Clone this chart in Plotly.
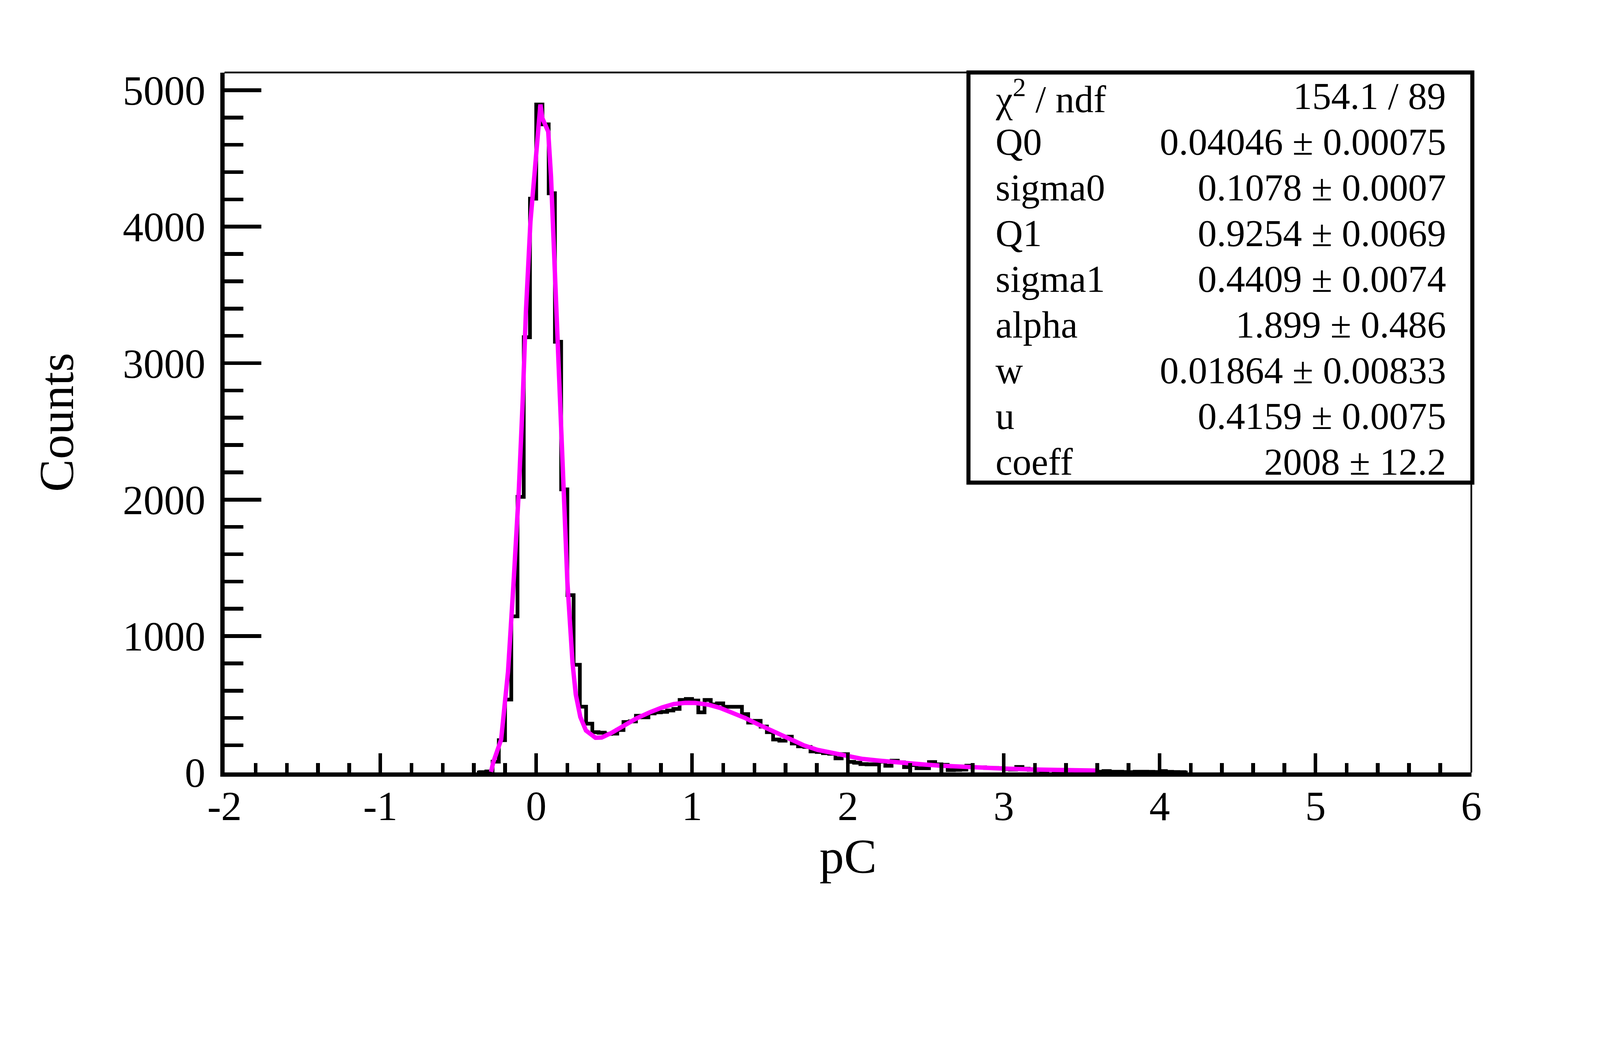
import plotly.graph_objects as go

# histogram: bins of 0.04 pC starting at -0.40
bin_start = -0.40
bin_width = 0.04
counts = [0, 3, 8, 80, 237, 535, 1145, 2020, 3190, 4205,
          4895, 4750, 4245, 3157, 2075, 1300, 790, 483, 358, 296,
          292, 283, 285, 312, 370, 375, 416, 405, 433, 441,
          445, 455, 466, 532, 539, 528, 441, 532, 499, 507,
          482, 482, 482, 428, 366, 379, 337, 296, 242, 234,
          263, 213, 192, 188, 155, 151, 142, 138, 104, 135,
          78, 72, 62, 60, 60, 80, 50, 87, 75, 40,
          55, 32, 32, 77, 60, 57, 18, 20, 22, 50,
          38, 38, 34, 34, 32, 25, 22, 41, 28, 20,
          16, 14, 19, 12, 10, 16, 10, 8, 8, 7,
          6, 11, 6, 6, 4, 3, 6, 6, 5, 4,
          11, 5, 4, 3, 0]

# fit curve
fit_x = [-0.29, -0.275, -0.225, -0.181, -0.145, -0.112, -0.087, -0.066, -0.037, -0.008,
         0.014, 0.027, 0.039, 0.077, 0.095, 0.118, 0.138, 0.175, 0.200, 0.233,
         0.254, 0.283, 0.319, 0.38, 0.42, 0.482, 0.557, 0.645, 0.732, 0.807,
         0.882, 0.957, 1.019, 1.107, 1.181, 1.269, 1.344, 1.419, 1.494, 1.568,
         1.643, 1.718, 1.805, 1.893, 1.993, 2.093, 2.2, 2.3, 2.4, 2.5,
         2.6, 2.7, 2.8, 2.9, 3.0, 3.2, 3.4, 3.6]
fit_y = [5, 77, 242, 737, 1397, 2057, 2717, 3377, 4037, 4466,
         4763, 4895, 4796, 4697, 4367, 3707, 3047, 2057, 1397, 803,
         572, 407, 308, 255, 257, 290, 344, 398, 443, 477,
         502, 511, 510, 497, 473, 435, 398, 356, 315, 274,
         232, 199, 166, 145, 122, 100, 87, 75, 67, 58,
         50, 43, 37, 33, 29, 22, 17, 14]

x_ticks = [-2, -1, 0, 1, 2, 3, 4, 5, 6]
x_ticktext = ["-2", "-1", "0", "1", "2", "3", "4", "5", "6"]
y_ticks = [0, 1000, 2000, 3000, 4000, 5000]
y_ticktext = ["0", "1000", "2000", "3000", "4000", "5000"]

stat_names = ["χ<sup>2</sup> / ndf", "Q0", "sigma0", "Q1", "sigma1",
              "alpha", "w", "u", "coeff"]
stat_values = ["154.1 / 89", "0.04046 ± 0.00075", "0.1078 ± 0.0007",
               "0.9254 ± 0.0069", "0.4409 ± 0.0074", "1.899 ± 0.486",
               "0.01864 ± 0.00833", "0.4159 ± 0.0075", "2008 ± 12.2"]

FONT = "Liberation Serif"
W, H = 4725, 2667
L, R, T, B = 663, 380, 214, 386
plot_h = H - T - B
plot_w = W - L - R

def py(y_px):
    return (H - B - y_px) / plot_h

def px(x_px):
    return (x_px - L) / plot_w

centers = [bin_start + bin_width * (i + 0.5) for i in range(len(counts))]

fig = go.Figure()
fig.add_trace(go.Scatter(x=centers, y=counts, mode="lines", line_shape="hvh",
                         line=dict(color="black", width=11), showlegend=False))
fig.add_trace(go.Scatter(x=fit_x, y=fit_y, mode="lines",
                         line=dict(color="#ff00ff", width=13), showlegend=False))

fig.update_layout(
    width=W, height=H,
    margin=dict(l=L, r=R, t=T, b=B, pad=0),
    paper_bgcolor="white", plot_bgcolor="white",
    font=dict(family=FONT, color="black", size=122),
    showlegend=False,
)
fig.update_xaxes(range=[-2, 6], tickvals=x_ticks, ticktext=x_ticktext,
                 ticks="inside", ticklen=57, tickwidth=11, tickcolor="black",
                 showline=True, linewidth=12, linecolor="black",
                 showgrid=False, zeroline=False, ticklabelstandoff=-18,
                 tickfont=dict(family=FONT, size=122),
                 minor=dict(tickmode="linear", tick0=-2, dtick=0.2, ticks="inside",
                            ticklen=28, tickwidth=11, tickcolor="black", showgrid=False))
fig.update_yaxes(range=[0, 5130], tickvals=y_ticks, ticktext=y_ticktext,
                 ticks="inside", ticklen=109, tickwidth=11, tickcolor="black",
                 showline=True, linewidth=12, linecolor="black",
                 showgrid=False, zeroline=False, ticklabelstandoff=20,
                 tickfont=dict(family=FONT, size=122),
                 minor=dict(tickmode="linear", tick0=0, dtick=200, ticks="inside",
                            ticklen=56, tickwidth=11, tickcolor="black", showgrid=False))

# thin frame on top and right
fig.add_shape(type="line", xref="paper", yref="paper", x0=0, x1=1, y0=1, y1=1,
              line=dict(color="black", width=5))
fig.add_shape(type="line", xref="paper", yref="paper", x0=1, x1=1, y0=0, y1=1,
              line=dict(color="black", width=5))

# stats box
fig.add_shape(type="rect", xref="paper", yref="paper",
              x0=px(2860), x1=px(4348), y0=py(1425), y1=py(214),
              line=dict(color="black", width=12), fillcolor="white")

row_y = [284 + 135 * i for i in range(len(stat_names))]
for name, val, yy in zip(stat_names, stat_values, row_y):
    fig.add_annotation(x=px(2938), y=py(yy), xref="paper", yref="paper",
                       text=name, showarrow=False, xanchor="left", yanchor="middle",
                       font=dict(family=FONT, size=112, color="black"))
    fig.add_annotation(x=px(4272), y=py(yy), xref="paper", yref="paper",
                       text=val, showarrow=False, xanchor="right", yanchor="middle",
                       font=dict(family=FONT, size=112, color="black"))

# axis titles
fig.add_annotation(x=0.5, y=py(2528), xref="paper", yref="paper", text="pC",
                   showarrow=False, xanchor="center", yanchor="middle",
                   font=dict(family=FONT, size=145, color="black"))
fig.add_annotation(x=px(166), y=0.5, xref="paper", yref="paper", text="Counts",
                   showarrow=False, textangle=-90, xanchor="center", yanchor="middle",
                   font=dict(family=FONT, size=145, color="black"))

# fit the fixed-size figure into whatever CSS viewport the browser reports
fit_js = (
    "document.body.style.margin='0';"
    "var s=Math.min(window.innerWidth/%d, window.innerHeight/%d);"
    "if (s < 0.999) { document.body.style.zoom = s; }" % (W, H)
)
fig.write_html("out.html", post_script=fit_js, config={"displayModeBar": False})
